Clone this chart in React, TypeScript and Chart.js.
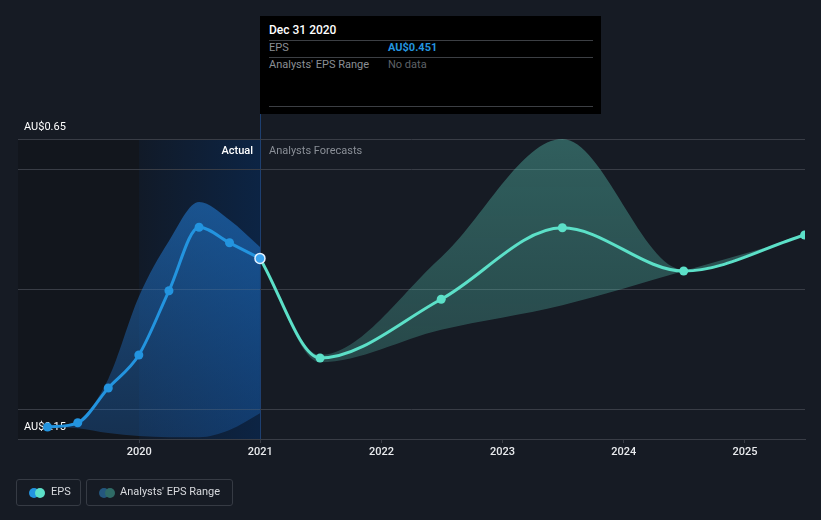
import React, { useEffect, useRef } from "react";
import { Chart, registerables } from "chart.js";

Chart.register(...registerables);

// ---------- data ----------
const actualDates = ["2019-03-31", "2019-06-30", "2019-09-30", "2019-12-31", "2020-03-31", "2020-06-30", "2020-09-30", "2020-12-31"];
const actualEps = [0.17, 0.177, 0.235, 0.29, 0.397, 0.503, 0.477, 0.451];
const actualRangeHigh = [0.17, 0.18, 0.25, 0.387, 0.48, 0.545, 0.515, 0.47];
const actualRangeLow = [0.17, 0.168, 0.16, 0.155, 0.153, 0.153, 0.165, 0.193];

const forecastDates = ["2020-12-31", "2021-06-30", "2022-06-30", "2023-06-30", "2024-06-30", "2025-06-30"];
const forecastEps = [0.451, 0.285, 0.383, 0.502, 0.43, 0.49];
const forecastHigh = [0.451, 0.29, 0.453, 0.65, 0.432, 0.492];
const forecastLow = [0.451, 0.278, 0.332, 0.373, 0.43, 0.488];

const yTicks = [0.15, 0.2, 0.4, 0.6, 0.65];
const yLabelled = [0.15, 0.65];
const xTickYears = [2020, 2021, 2022, 2023, 2024, 2025];
const xMinDate = "2019-01-01";
const xMaxDate = "2025-07-01";
const highlightDate = "2020-12-31";

function toYear(s: string): number {
  const d = Date.parse(s + "T00:00:00Z");
  const y = new Date(d).getUTCFullYear();
  const a = Date.UTC(y, 0, 1);
  const b = Date.UTC(y + 1, 0, 1);
  return y + (d - a) / (b - a);
}
const pts = (dates: string[], vals: number[]) => dates.map((d, i) => ({ x: toYear(d), y: vals[i] }));

const BG = "#161b24";
const GRID = "#393d46";
const BLUE = "#2394df";
const TEAL = "#5ce0c8";

const bgPlugin = {
  id: "bgRegions",
  beforeDraw(chart: any) {
    const { ctx, chartArea, scales } = chart;
    const x = scales.x;
    const xa = x.getPixelForValue(toYear("2020-01-01"));
    const xb = x.getPixelForValue(toYear(highlightDate));
    ctx.save();
    ctx.fillStyle = "#12161d";
    ctx.fillRect(chartArea.left, chartArea.top, xa - chartArea.left, chartArea.bottom - chartArea.top);
    const g = ctx.createLinearGradient(xa, 0, xb, 0);
    g.addColorStop(0, "#111a28");
    g.addColorStop(1, "#0c2444");
    ctx.fillStyle = g;
    ctx.fillRect(xa, chartArea.top, xb - xa, chartArea.bottom - chartArea.top);
    ctx.strokeStyle = "#1d3f70";
    ctx.lineWidth = 1;
    ctx.beginPath();
    ctx.moveTo(Math.round(xb) + 0.5, 114);
    ctx.lineTo(Math.round(xb) + 0.5, chartArea.bottom);
    ctx.stroke();
    ctx.restore();
  },
};

export default function App() {
  const ref = useRef<HTMLCanvasElement | null>(null);

  useEffect(() => {
    document.body.style.margin = "0";
    const canvas = ref.current!;
    const blueGrad = (ctx: any) => {
      const c = ctx.chart;
      const a = c.chartArea;
      if (!a) return "rgba(33,137,230,0.4)";
      const g = c.ctx.createLinearGradient(0, a.top, 0, a.bottom);
      g.addColorStop(0, "rgba(36,130,220,0.62)");
      g.addColorStop(1, "rgba(30,110,200,0.3)");
      return g;
    };
    const tealGrad = (ctx: any) => {
      const c = ctx.chart;
      const a = c.chartArea;
      if (!a) return "rgba(88,212,190,0.3)";
      const g = c.ctx.createLinearGradient(0, a.top, 0, a.bottom);
      g.addColorStop(0, "rgba(95,215,195,0.36)");
      g.addColorStop(1, "rgba(95,215,195,0.2)");
      return g;
    };
    const chart = new Chart(canvas, {
      type: "line",
      data: {
        datasets: [
          {
            label: "EPS",
            data: pts(actualDates, actualEps),
            borderColor: BLUE,
            backgroundColor: BLUE,
            borderWidth: 3,
            pointRadius: actualDates.map((d) => (d === highlightDate ? 5 : 4.5)),
            pointBackgroundColor: actualDates.map((d) => (d === highlightDate ? "#3aa2ee" : BLUE)),
            pointBorderColor: actualDates.map((d) => (d === highlightDate ? "#e6f2ff" : BLUE)),
            pointBorderWidth: actualDates.map((d) => (d === highlightDate ? 1.5 : 0)),
            cubicInterpolationMode: "monotone",
            fill: false,
            order: 0,
          },
          {
            label: "EPS forecast",
            data: pts(forecastDates, forecastEps),
            borderColor: TEAL,
            backgroundColor: TEAL,
            borderWidth: 3,
            pointRadius: forecastDates.map((d, i) => (i === 0 ? 0 : 4.5)),
            pointBorderWidth: 0,
            cubicInterpolationMode: "monotone",
            fill: false,
            order: 1,
          },
          {
            label: "actualHigh",
            data: pts(actualDates, actualRangeHigh),
            borderWidth: 0,
            borderColor: "rgba(0,0,0,0)",
            pointRadius: 0,
            backgroundColor: blueGrad,
            fill: "+1",
            cubicInterpolationMode: "monotone",
            order: 5,
          },
          {
            label: "actualLow",
            data: pts(actualDates, actualRangeLow),
            borderWidth: 0,
            borderColor: "rgba(0,0,0,0)",
            pointRadius: 0,
            fill: false,
            cubicInterpolationMode: "monotone",
            order: 6,
          },
          {
            label: "forecastHigh",
            data: pts(forecastDates, forecastHigh),
            borderWidth: 0,
            borderColor: "rgba(0,0,0,0)",
            pointRadius: 0,
            backgroundColor: tealGrad,
            fill: "+1",
            cubicInterpolationMode: "monotone",
            order: 5,
          },
          {
            label: "forecastLow",
            data: pts(forecastDates, forecastLow),
            borderWidth: 0,
            borderColor: "rgba(0,0,0,0)",
            pointRadius: 0,
            fill: false,
            cubicInterpolationMode: "monotone",
            order: 6,
          },
        ],
      },
      options: {
        animation: false,
        responsive: false,
        maintainAspectRatio: false,
        events: [],
        layout: { padding: { left: 18, right: 16, top: 139, bottom: 0 } },
        plugins: { legend: { display: false }, tooltip: { enabled: false } },
        scales: {
          x: {
            type: "linear",
            min: toYear(xMinDate),
            max: toYear(xMaxDate),
            afterFit: (s: any) => {
              s.height = 81;
            },
            afterBuildTicks: (s: any) => {
              s.ticks = xTickYears.map((v) => ({ value: v }));
            },
            grid: { drawOnChartArea: false, drawTicks: true, tickLength: 4, color: GRID },
            border: { display: true, color: GRID },
            ticks: {
              color: "#e8eaed",
              font: { family: "Roboto", size: 11, weight: 500 },
              padding: 3,
              maxRotation: 0,
              callback: (v: any) => String(v),
            },
          },
          y: {
            min: yTicks[0],
            max: yTicks[yTicks.length - 1],
            afterFit: (s: any) => {
              s.width = 0;
            },
            afterBuildTicks: (s: any) => {
              s.ticks = yTicks.map((v) => ({ value: v }));
            },
            border: { display: false },
            grid: { color: GRID, drawTicks: false },
            ticks: {
              mirror: true,
              padding: 6,
              labelOffset: -12,
              color: "#ffffff",
              font: { family: "Roboto", size: 11 },
              callback: (v: any) => (yLabelled.includes(Number(v)) ? "AU$" + Number(v).toFixed(2) : ""),
            },
          },
        },
      },
      plugins: [bgPlugin],
    } as any);
    return () => chart.destroy();
  }, []);

  const font = "Roboto, 'Noto Sans', sans-serif";
  return (
    <div style={{ position: "relative", width: 821, height: 520, background: BG, fontFamily: font, overflow: "hidden" }}>
      <canvas ref={ref} width={821} height={520} style={{ position: "absolute", left: 0, top: 0, width: 821, height: 520 }} />
      {/* tooltip */}
      <div style={{ position: "absolute", left: 260, top: 16, width: 341, height: 98, background: "#000" }}>
        <div style={{ position: "absolute", left: 9, top: 7, fontSize: 12, fontWeight: 500, color: "#fff" }}>Dec 31 2020</div>
        <div style={{ position: "absolute", left: 9, right: 8, top: 24, height: 1, background: "#3c3f44" }} />
        <div style={{ position: "absolute", left: 9, top: 25, fontSize: 11, color: "#8b8f95" }}>EPS</div>
        <div style={{ position: "absolute", left: 128, top: 25, fontSize: 11, fontWeight: 700, color: "#2394df" }}>AU$0.451</div>
        <div style={{ position: "absolute", left: 9, right: 8, top: 41, height: 1, background: "#3c3f44" }} />
        <div style={{ position: "absolute", left: 9, top: 42, fontSize: 11, color: "#8b8f95" }}>Analysts' EPS Range</div>
        <div style={{ position: "absolute", left: 128, top: 42, fontSize: 11, color: "#5e6268" }}>No data</div>
        <div style={{ position: "absolute", left: 9, right: 8, top: 90, height: 1, background: "#3c3f44" }} />
      </div>
      {/* region labels */}
      <div style={{ position: "absolute", right: 821 - 253, top: 144, fontSize: 11, fontWeight: 500, color: "#fff" }}>Actual</div>
      <div style={{ position: "absolute", left: 269, top: 144, fontSize: 11, color: "#8a8f97" }}>Analysts Forecasts</div>
      {/* legend */}
      <div style={{ position: "absolute", left: 16, top: 479, width: 63, height: 25, border: "1px solid #363b44", borderRadius: 3 }}>
        <div style={{ position: "absolute", left: 12, top: 8, width: 10, height: 10, borderRadius: 5, background: BLUE }} />
        <div style={{ position: "absolute", left: 18, top: 8, width: 10, height: 10, borderRadius: 5, background: TEAL }} />
        <div style={{ position: "absolute", left: 34, top: 5, fontSize: 11, color: "#d8dade" }}>EPS</div>
      </div>
      <div style={{ position: "absolute", left: 86, top: 479, width: 145, height: 25, border: "1px solid #363b44", borderRadius: 3 }}>
        <div style={{ position: "absolute", left: 12, top: 8, width: 10, height: 10, borderRadius: 5, background: "#24577e" }} />
        <div style={{ position: "absolute", left: 18, top: 8, width: 10, height: 10, borderRadius: 5, background: "#2f6b66" }} />
        <div style={{ position: "absolute", left: 33, top: 5, fontSize: 11, color: "#d8dade" }}>Analysts' EPS Range</div>
      </div>
    </div>
  );
}
